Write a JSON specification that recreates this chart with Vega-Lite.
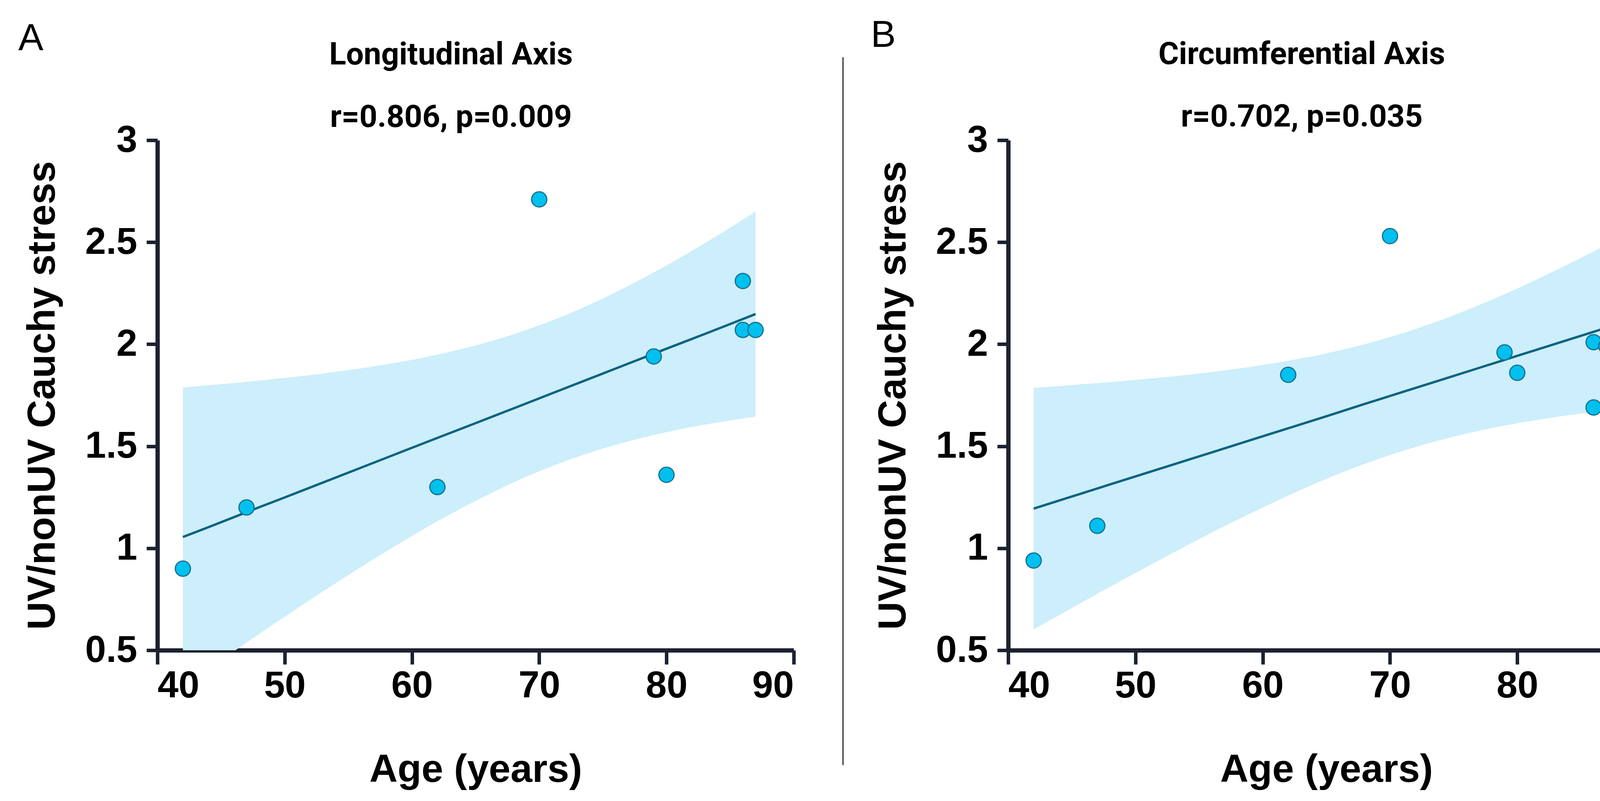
{
  "$schema": "https://vega.github.io/schema/vega-lite/v6.json",
  "background": "white",
  "padding": {"left": 46, "top": 43, "right": 8, "bottom": 8},
  "spacing": 68,
  "config": {
    "view": {"stroke": null},
    "axis": {
      "grid": false,
      "domainColor": "#1c2230",
      "domainWidth": 11,
      "tickColor": "#1c2230",
      "tickWidth": 9,
      "labelFont": "Liberation Sans",
      "labelFontWeight": "bold",
      "labelFontSize": 96,
      "labelColor": "black",
      "titleFont": "Liberation Sans",
      "titleFontWeight": "bold",
      "titleFontSize": 100,
      "titleColor": "black"
    },
    "axisX": {"tickSize": 36, "labelPadding": 8, "titlePadding": 118},
    "axisY": {"tickSize": 28, "labelPadding": 24, "titlePadding": 57},
    "title": {
      "font": "Roboto",
      "fontSize": 80,
      "fontWeight": "bold",
      "color": "black",
      "subtitleFont": "Roboto",
      "subtitleFontSize": 80,
      "subtitleFontWeight": "bold",
      "subtitleColor": "black",
      "subtitlePadding": 80,
      "anchor": "middle",
      "dx": -63
    }
  },
  "datasets": {
    "ptsA": [
      {"age": 42, "value": 0.90},
      {"age": 47, "value": 1.20},
      {"age": 62, "value": 1.30},
      {"age": 70, "value": 2.71},
      {"age": 79, "value": 1.94},
      {"age": 80, "value": 1.36},
      {"age": 86, "value": 2.31},
      {"age": 86, "value": 2.07},
      {"age": 87, "value": 2.07}
    ],
    "ptsB": [
      {"age": 42, "value": 0.94},
      {"age": 47, "value": 1.11},
      {"age": 62, "value": 1.85},
      {"age": 70, "value": 2.53},
      {"age": 79, "value": 1.96},
      {"age": 80, "value": 1.86},
      {"age": 86, "value": 2.01},
      {"age": 86, "value": 1.69},
      {"age": 87, "value": 1.99}
    ],
    "bandA": [
      {"age": 42, "lower": 0.321, "upper": 1.788, "fit": 1.055},
      {"age": 44, "lower": 0.408, "upper": 1.799, "fit": 1.103},
      {"age": 46, "lower": 0.494, "upper": 1.810, "fit": 1.152},
      {"age": 48, "lower": 0.580, "upper": 1.822, "fit": 1.201},
      {"age": 50, "lower": 0.664, "upper": 1.835, "fit": 1.249},
      {"age": 53, "lower": 0.788, "upper": 1.856, "fit": 1.322},
      {"age": 56, "lower": 0.908, "upper": 1.882, "fit": 1.395},
      {"age": 59, "lower": 1.023, "upper": 1.912, "fit": 1.468},
      {"age": 62, "lower": 1.132, "upper": 1.949, "fit": 1.541},
      {"age": 65, "lower": 1.232, "upper": 1.994, "fit": 1.613},
      {"age": 68, "lower": 1.323, "upper": 2.049, "fit": 1.686},
      {"age": 71, "lower": 1.402, "upper": 2.116, "fit": 1.759},
      {"age": 74, "lower": 1.469, "upper": 2.195, "fit": 1.832},
      {"age": 77, "lower": 1.524, "upper": 2.286, "fit": 1.905},
      {"age": 80, "lower": 1.569, "upper": 2.386, "fit": 1.978},
      {"age": 83, "lower": 1.606, "upper": 2.495, "fit": 2.050},
      {"age": 85, "lower": 1.626, "upper": 2.571, "fit": 2.099},
      {"age": 87, "lower": 1.645, "upper": 2.650, "fit": 2.148}
    ],
    "bandB": [
      {"age": 42, "lower": 0.602, "upper": 1.787, "fit": 1.194},
      {"age": 44, "lower": 0.672, "upper": 1.795, "fit": 1.234},
      {"age": 46, "lower": 0.742, "upper": 1.805, "fit": 1.273},
      {"age": 48, "lower": 0.811, "upper": 1.814, "fit": 1.313},
      {"age": 50, "lower": 0.879, "upper": 1.825, "fit": 1.352},
      {"age": 53, "lower": 0.979, "upper": 1.843, "fit": 1.411},
      {"age": 56, "lower": 1.077, "upper": 1.864, "fit": 1.470},
      {"age": 59, "lower": 1.170, "upper": 1.889, "fit": 1.529},
      {"age": 62, "lower": 1.258, "upper": 1.919, "fit": 1.588},
      {"age": 65, "lower": 1.340, "upper": 1.955, "fit": 1.647},
      {"age": 68, "lower": 1.413, "upper": 2.000, "fit": 1.707},
      {"age": 71, "lower": 1.477, "upper": 2.054, "fit": 1.766},
      {"age": 74, "lower": 1.531, "upper": 2.118, "fit": 1.825},
      {"age": 77, "lower": 1.576, "upper": 2.192, "fit": 1.884},
      {"age": 80, "lower": 1.613, "upper": 2.273, "fit": 1.943},
      {"age": 83, "lower": 1.643, "upper": 2.361, "fit": 2.002},
      {"age": 85, "lower": 1.660, "upper": 2.423, "fit": 2.041},
      {"age": 87, "lower": 1.675, "upper": 2.487, "fit": 2.081}
    ],
    "labelA": [{"label": "A", "age": 29.07, "value": 3.443}],
    "labelB": [{"label": "B", "age": 29.2, "value": 3.457}],
    "divider": [{"age": 93.87, "top": 3.407, "bottom": -0.063}]
  },
  "hconcat": [
    {
      "width": 1629,
      "height": 1306,
      "title": {"text": "Longitudinal Axis", "subtitle": "r=0.806, p=0.009", "offset": -291},
      "layer": [
        {
          "data": {"name": "bandA"},
          "mark": {"type": "area", "clip": true, "color": "#cdeefb", "opacity": 1, "interpolate": "monotone"},
          "encoding": {
            "x": {"field": "age", "type": "quantitative", "title": "Age (years)", "scale": {"domain": [40, 90], "nice": false, "zero": false}, "axis": {"values": [40, 50, 60, 70, 80, 90]}},
            "y": {"field": "lower", "type": "quantitative", "title": "UV/nonUV Cauchy stress", "scale": {"domain": [0.5, 3], "nice": false, "zero": false}, "axis": {"values": [0.5, 1, 1.5, 2, 2.5, 3], "format": "~g"}},
            "y2": {"field": "upper"}
          }
        },
        {
          "data": {"name": "bandA"},
          "mark": {"type": "line", "color": "#0b6380", "strokeWidth": 6},
          "encoding": {
            "x": {"field": "age", "type": "quantitative", "title": "Age (years)"},
            "y": {"field": "fit", "type": "quantitative", "title": "UV/nonUV Cauchy stress"}
          }
        },
        {
          "data": {"name": "ptsA"},
          "mark": {"type": "point", "shape": "circle", "filled": true, "size": 1520, "fill": "#00c0ef", "stroke": "#1a6f8c", "strokeWidth": 3, "opacity": 1, "fillOpacity": 1},
          "encoding": {
            "x": {"field": "age", "type": "quantitative", "title": "Age (years)"},
            "y": {"field": "value", "type": "quantitative", "title": "UV/nonUV Cauchy stress"}
          }
        },
        {
          "data": {"name": "labelA"},
          "mark": {"type": "text", "align": "left", "baseline": "alphabetic", "font": "Liberation Sans", "fontSize": 96, "fontWeight": "normal", "color": "black"},
          "encoding": {
            "x": {"field": "age", "type": "quantitative", "title": "Age (years)"},
            "y": {"field": "value", "type": "quantitative", "title": "UV/nonUV Cauchy stress"},
            "text": {"field": "label"}
          }
        },
        {
          "data": {"name": "divider"},
          "mark": {"type": "rule", "color": "#555555", "strokeWidth": 4},
          "encoding": {
            "x": {"field": "age", "type": "quantitative", "title": "Age (years)"},
            "y": {"field": "top", "type": "quantitative", "title": "UV/nonUV Cauchy stress"},
            "y2": {"field": "bottom"}
          }
        }
      ]
    },
    {
      "width": 1629,
      "height": 1306,
      "title": {"text": "Circumferential Axis", "subtitle": "r=0.702, p=0.035", "offset": -298},
      "layer": [
        {
          "data": {"name": "bandB"},
          "mark": {"type": "area", "clip": true, "color": "#cdeefb", "opacity": 1, "interpolate": "monotone"},
          "encoding": {
            "x": {"field": "age", "type": "quantitative", "title": "Age (years)", "scale": {"domain": [40, 90], "nice": false, "zero": false}, "axis": {"values": [40, 50, 60, 70, 80, 90]}},
            "y": {"field": "lower", "type": "quantitative", "title": "UV/nonUV Cauchy stress", "scale": {"domain": [0.5, 3], "nice": false, "zero": false}, "axis": {"values": [0.5, 1, 1.5, 2, 2.5, 3], "format": "~g"}},
            "y2": {"field": "upper"}
          }
        },
        {
          "data": {"name": "bandB"},
          "mark": {"type": "line", "color": "#0b6380", "strokeWidth": 6},
          "encoding": {
            "x": {"field": "age", "type": "quantitative", "title": "Age (years)"},
            "y": {"field": "fit", "type": "quantitative", "title": "UV/nonUV Cauchy stress"}
          }
        },
        {
          "data": {"name": "ptsB"},
          "mark": {"type": "point", "shape": "circle", "filled": true, "size": 1520, "fill": "#00c0ef", "stroke": "#1a6f8c", "strokeWidth": 3, "opacity": 1, "fillOpacity": 1},
          "encoding": {
            "x": {"field": "age", "type": "quantitative", "title": "Age (years)"},
            "y": {"field": "value", "type": "quantitative", "title": "UV/nonUV Cauchy stress"}
          }
        },
        {
          "data": {"name": "labelB"},
          "mark": {"type": "text", "align": "left", "baseline": "alphabetic", "font": "Liberation Sans", "fontSize": 96, "fontWeight": "normal", "color": "black"},
          "encoding": {
            "x": {"field": "age", "type": "quantitative", "title": "Age (years)"},
            "y": {"field": "value", "type": "quantitative", "title": "UV/nonUV Cauchy stress"},
            "text": {"field": "label"}
          }
        }
      ]
    }
  ]
}
